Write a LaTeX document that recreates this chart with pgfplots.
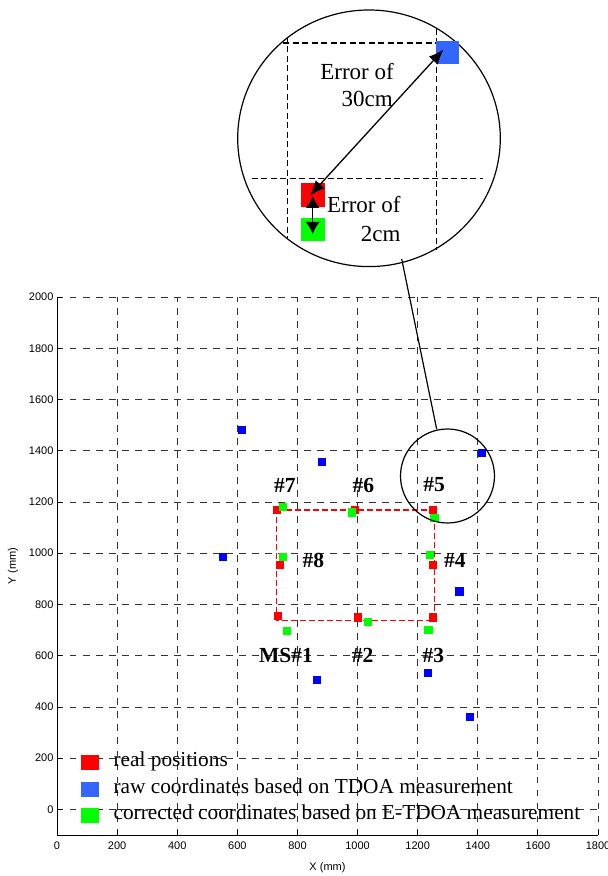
\documentclass[border=0pt]{standalone}
\usepackage{pgfplots}
\pgfplotsset{compat=1.18}
\usepackage{fontspec}
\setmainfont{Liberation Serif}
\newfontfamily\sansf{Liberation Sans}
\usetikzlibrary{arrows.meta}
\definecolor{mred}{RGB}{255,0,0}
\definecolor{mblue}{RGB}{0,0,255}
\definecolor{lblue}{RGB}{51,102,255}
\definecolor{mgreen}{RGB}{0,255,0}
\begin{document}
\begin{tikzpicture}
\path[use as bounding box] (0,0) rectangle (608pt,876pt);
\begin{axis}[
  at={(57pt,41pt)}, anchor=south west,
  scale only axis, width=541pt, height=538pt,
  xmin=0, xmax=1800, ymin=-100, ymax=2000,
  xtick={0,200,...,1800}, ytick={0,200,...,2000},
  axis lines=left, axis line style={-, line width=0.9pt},
  tick align=inside, major tick length=5pt,
  tick style={black, line width=0.8pt},
  grid=major,
  major grid style={dash pattern=on 6.5pt off 6.5pt, black!80, line width=0.8pt},
  /pgf/number format/assume math mode=true,
  /pgf/number format/set thousands separator={},
  ticklabel style={font=\sansf\fontsize{11}{13}\selectfont},
  xticklabel style={yshift=-3pt},
  xlabel={X (mm)}, ylabel={Y (mm)},
  label style={font=\sansf\fontsize{11}{13}\selectfont},
  xlabel style={at={(axis description cs:0.5,-0.0613)}, anchor=center},
  ylabel style={at={(axis description cs:-0.0813,0.5)}, anchor=center, rotate=0},
  clip=false,
  legend cell align=left,
  legend style={at={(0.0444,0.1533)}, anchor=north west, draw=none, fill=none,
    font=\fontsize{21.3}{25}\selectfont, inner sep=0pt, row sep=7.5pt,
    nodes={inner sep=0pt, text height=14pt, text depth=5pt}},
]
\addlegendimage{legend image code/.code={\fill[mred] (0pt,-7pt) rectangle (17pt,7pt); \path (32pt,0pt);}}
\addlegendentry{real positions}
\addlegendimage{legend image code/.code={\fill[lblue] (0pt,-7pt) rectangle (17pt,7pt); \path (32pt,0pt);}}
\addlegendentry{raw coordinates based on TDOA measurement}
\addlegendimage{legend image code/.code={\fill[mgreen] (0pt,-7pt) rectangle (17pt,7pt); \path (32pt,0pt);}}
\addlegendentry{corrected coordinates based on E-TDOA measurement}

% route
\addplot[forget plot, mred, line width=1.3pt, dash pattern=on 6pt off 3pt] coordinates {
(731,1168) (1255,1168) (1255,738) (731,738) (731,1168)};
% real positions
\addplot[forget plot, mred, only marks, mark=square*, mark size=3.6pt] coordinates {
(735,755) (1000,750) (1250,750) (1250,955) (1250,1170) (990,1170) (730,1170) (740,955)};
% raw TDOA
\addplot[forget plot, mblue, only marks, mark=square*, mark size=3.6pt] coordinates {
(864,507) (1233,534) (1372,362) (1338,852) (1413,1393) (882,1357) (615,1483) (551,986)};
% corrected E-TDOA
\addplot[forget plot, mgreen, only marks, mark=square*, mark size=3.6pt] coordinates {
(765,697) (1035,732) (1235,700) (1240,995) (1255,1140) (980,1160) (750,1180) (750,985)};

\begin{scope}[font=\bfseries\fontsize{21.5}{24}\selectfont]
\node at (axis cs:758,1266) {\#7};
\node at (axis cs:1019,1266) {\#6};
\node at (axis cs:1255,1266) {\#5};
\node at (axis cs:853,973) {\#8};
\node at (axis cs:1324,973) {\#4};
\node at (axis cs:762,601) {MS\#1};
\node at (axis cs:1017,601) {\#2};
\node at (axis cs:1252,601) {\#3};
\end{scope}
\end{axis}

% magnifier circles and inset grid (pixel frame)
\begin{scope}[yshift=876pt, x=1pt, y=-1pt]
\draw[line width=1.2pt] (369,138.3) ellipse [x radius=131.3pt, y radius=128.3pt];
\draw[line width=1.2pt] (447.5,476) circle [radius=47pt];
\draw[line width=1.2pt] (401.7,259) -- (436.7,429.3);
\begin{scope}[line width=1.1pt, dash pattern=on 6pt off 3.5pt]
\draw (283,43) -- (447,43);
\draw (287.3,37) -- (287.3,238);
\draw (436.7,29) -- (436.7,250);
\draw (251.7,178.3) -- (483.3,178.3);
\end{scope}
\end{scope}

% inset squares
\begin{axis}[at={(0pt,0pt)}, anchor=south west, scale only axis, width=608pt, height=876pt,
  xmin=0, xmax=608, ymin=-876, ymax=0, hide axis, clip=false]
\addplot[lblue, only marks, mark=square*, mark size=11.1pt] coordinates {(447.5,-52.5)};
\addplot[mred, only marks, mark=square*, mark size=11.1pt] coordinates {(312.7,-194.8)};
\addplot[mgreen, only marks, mark=square*, mark size=11.1pt] coordinates {(312.7,-229.2)};
\end{axis}

\begin{scope}[yshift=876pt, x=1pt, y=-1pt]
\draw[line width=1.3pt, {Latex[length=15pt,width=12pt]}-{Latex[length=15pt,width=12pt]}] (310,195.5) -- (443.5,49.5);
\draw[line width=1.3pt, {Latex[length=12pt,width=14pt]}-{Latex[length=12pt,width=14pt]}] (312.7,196) -- (312.7,234);
\begin{scope}[font=\fontsize{23}{27}\selectfont]
\node[anchor=base east, inner sep=0pt] at (394,80) {Error of};
\node[anchor=base east, inner sep=0pt] at (393,107) {30cm};
\node[anchor=base east, inner sep=0pt] at (400.7,213) {Error of};
\node[anchor=base east, inner sep=0pt] at (400.7,241.7) {2cm};
\end{scope}
\end{scope}
\end{tikzpicture}
\end{document}
